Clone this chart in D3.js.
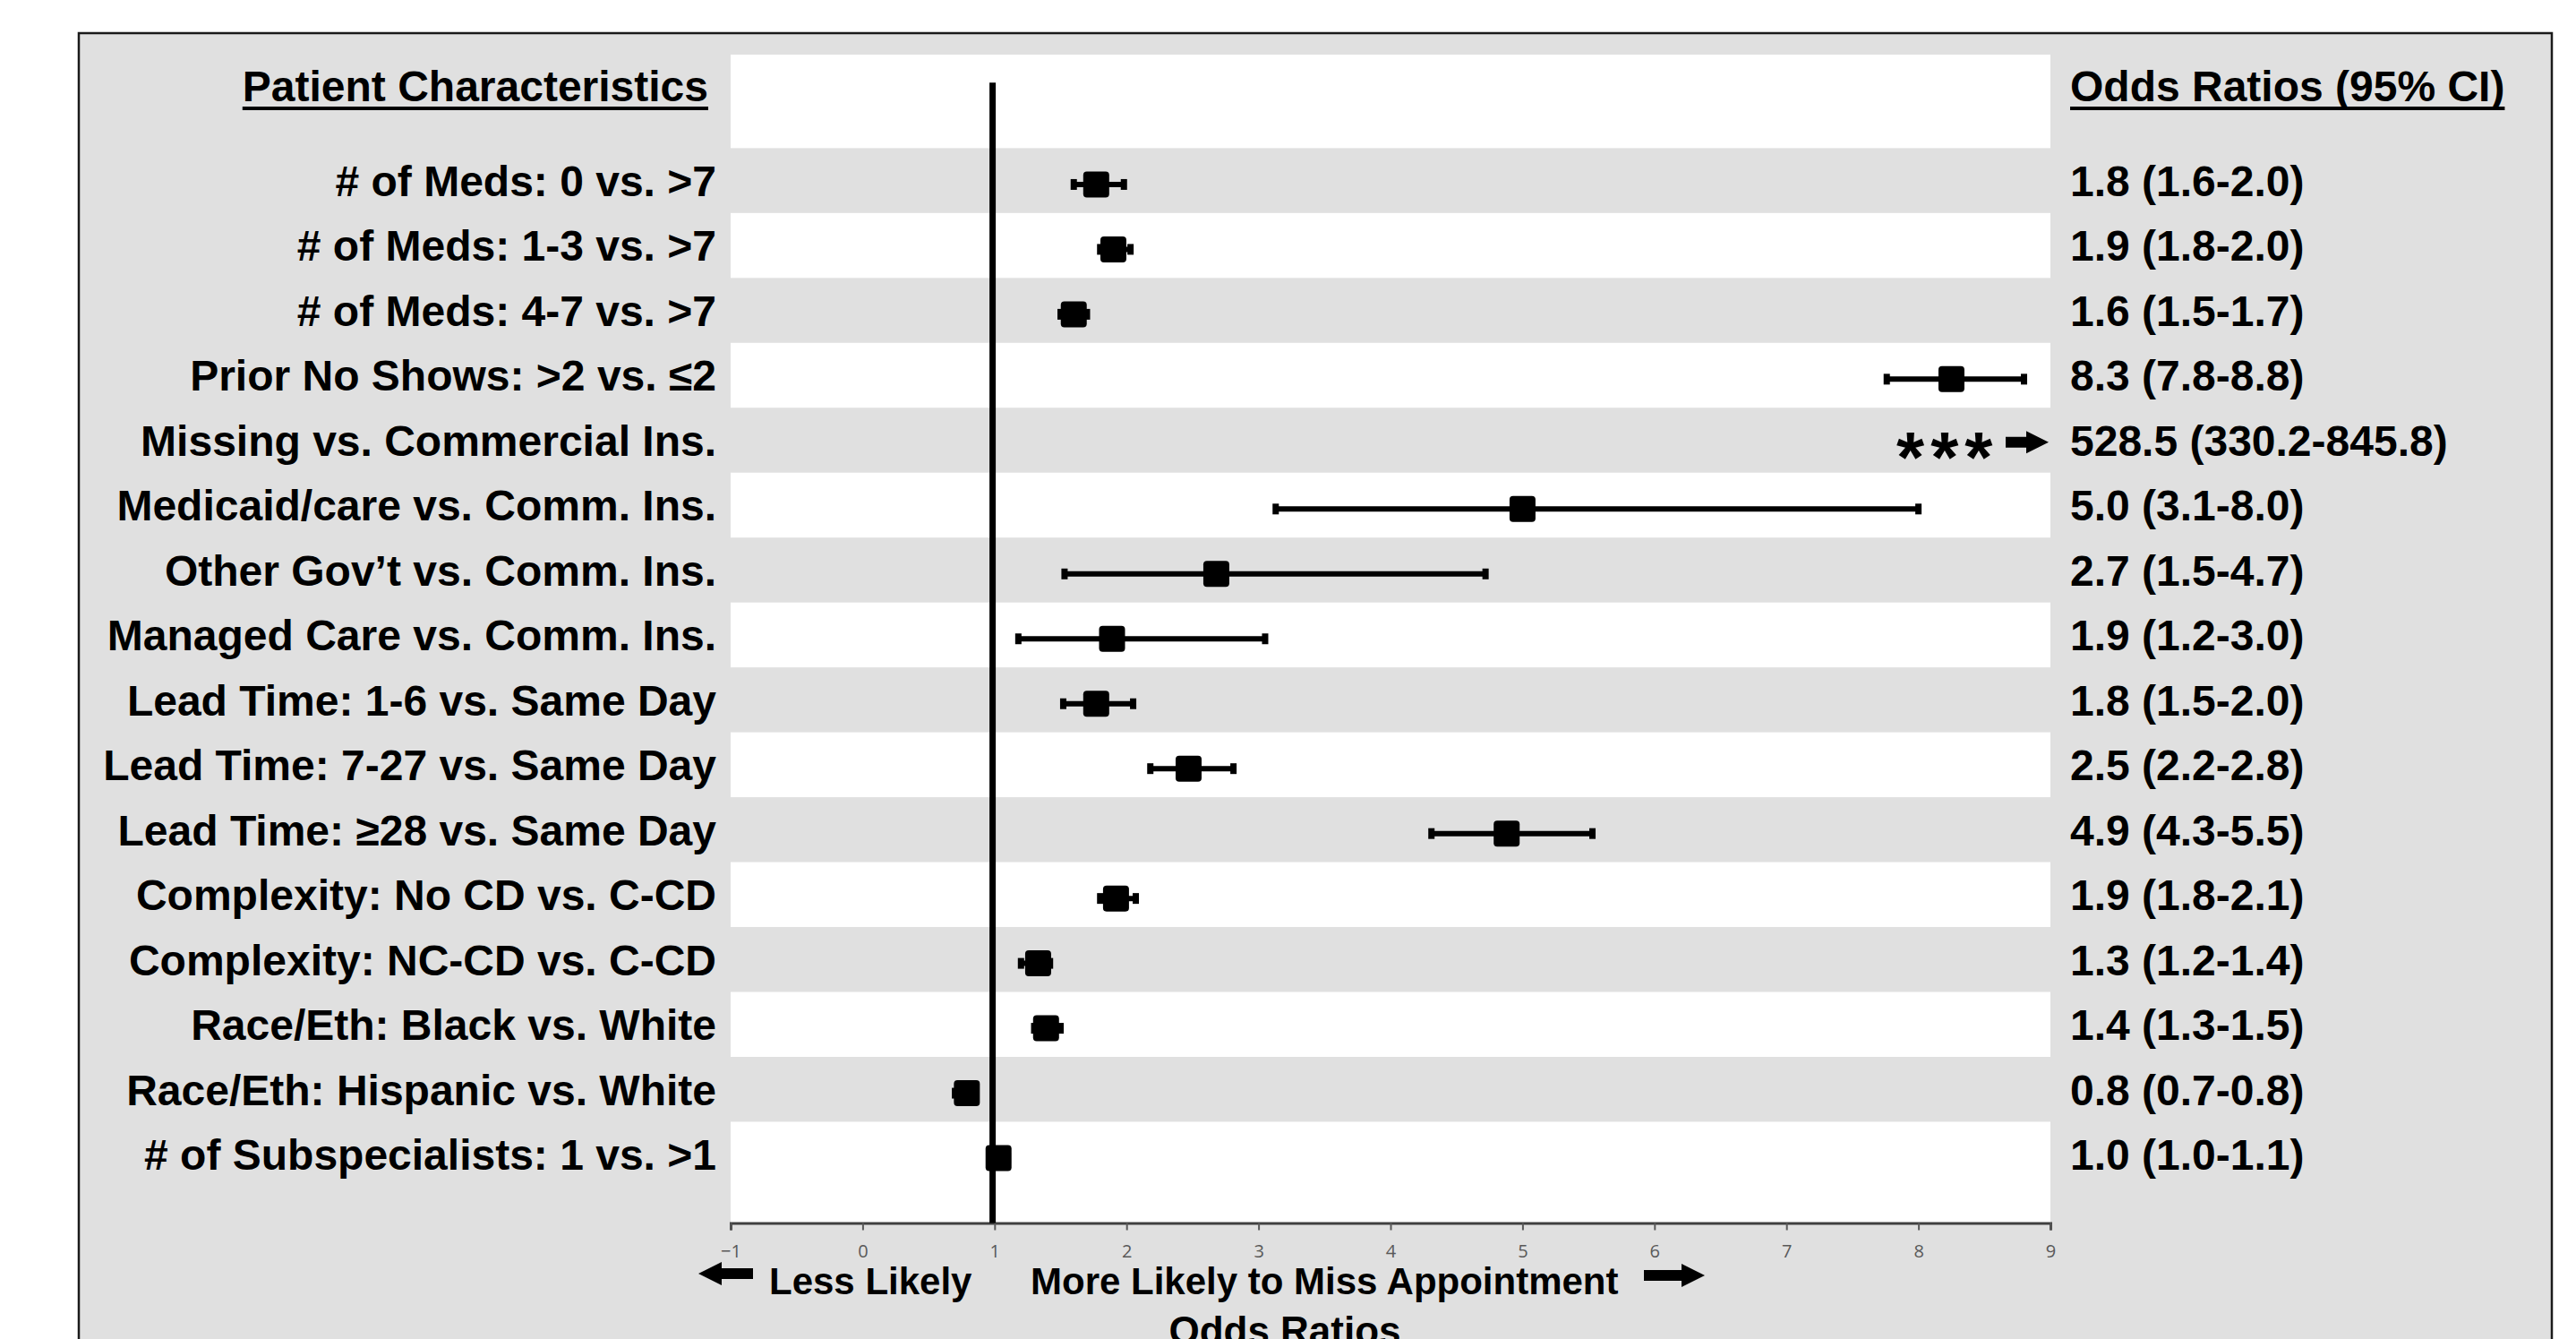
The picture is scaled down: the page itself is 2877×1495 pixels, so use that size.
<!DOCTYPE html>
<html>
<head>
<meta charset="utf-8">
<script src="https://cdn.jsdelivr.net/npm/d3@7"></script>
<style>
  body { margin: 0; background: #ffffff; }
  svg { display: block; }
</style>
</head>
<body>
<div id="chart"></div>
<script>
// rows, top to bottom
var rowLabels = [
    "# of Meds: 0 vs. >7",
    "# of Meds: 1-3 vs. >7",
    "# of Meds: 4-7 vs. >7",
    "Prior No Shows: >2 vs. \u22642",
    "Missing vs. Commercial Ins.",
    "Medicaid/care vs. Comm. Ins.",
    "Other Gov\u2019t vs. Comm. Ins.",
    "Managed Care vs. Comm. Ins.",
    "Lead Time: 1-6 vs. Same Day",
    "Lead Time: 7-27 vs. Same Day",
    "Lead Time: \u226528 vs. Same Day",
    "Complexity: No CD vs. C-CD",
    "Complexity: NC-CD vs. C-CD",
    "Race/Eth: Black vs. White",
    "Race/Eth: Hispanic vs. White",
    "# of Subspecialists: 1 vs. >1"
]
var oddsRatio = [1.77, 1.9, 1.6, 8.25, null, 5.0, 2.68, 1.89, 1.77, 2.47, 4.88, 1.92, 1.33, 1.39, 0.79, 1.03]
var ciLow     = [1.6, 1.8, 1.5, 7.76, null, 3.13, 1.53, 1.18, 1.52, 2.18, 4.31, 1.8, 1.2, 1.3, 0.7, 1.0]
var ciHigh    = [1.98, 2.03, 1.7, 8.8, null, 8.0, 4.72, 3.05, 2.05, 2.81, 5.53, 2.07, 1.42, 1.5, 0.8, 1.1]
var orText = [
    "1.8 (1.6-2.0)", "1.9 (1.8-2.0)", "1.6 (1.5-1.7)", "8.3 (7.8-8.8)",
    "528.5 (330.2-845.8)", "5.0 (3.1-8.0)", "2.7 (1.5-4.7)", "1.9 (1.2-3.0)",
    "1.8 (1.5-2.0)", "2.5 (2.2-2.8)", "4.9 (4.3-5.5)", "1.9 (1.8-2.1)",
    "1.3 (1.2-1.4)", "1.4 (1.3-1.5)", "0.8 (0.7-0.8)", "1.0 (1.0-1.1)"
]
var xTicks = [-1, 0, 1, 2, 3, 4, 5, 6, 7, 8, 9]

var width = 2877, height = 1495
var grey = "#e0e0e0"
var font = "'Liberation Sans', Arial, sans-serif"

var svg = d3.select("#chart")
    .append("svg")
    .attr("width", width)
    .attr("height", height)

// outer frame (runs past the bottom of the picture)
svg.append("rect")
    .attr("x", 88).attr("y", 37)
    .attr("width", 2762).attr("height", 1520)
    .attr("fill", grey)
    .attr("stroke", "#1a1a1a")
    .attr("stroke-width", 2.5)

var x = d3.scaleLinear().domain([-1, 9]).range([816, 2290])
// row i sits at value (n - i), domain like the excel plot
var n = rowLabels.length
var y = d3.scaleLinear().domain([0, 18]).range([1365.5, 61])
var rowY = function (i) { return y(n - i) }

// plot area
svg.append("rect")
    .attr("x", x(-1)).attr("y", y(18))
    .attr("width", x(9) - x(-1))
    .attr("height", y(0) - y(18))
    .attr("fill", "white")

// alternating bands
var bandShift = 0.06
svg.selectAll(".band")
    .data(d3.range(0, n, 2))
    .enter()
    .append("rect")
    .attr("class", "band")
    .attr("x", x(-1))
    .attr("width", x(9) - x(-1))
    .attr("y", function (i) { return y(n - i + 0.5 + bandShift) })
    .attr("height", y(0) - y(1))
    .attr("fill", grey)

// x axis
var xAxis = d3.axisBottom(x).tickValues(xTicks).tickSize(8).tickPadding(16)
var gx = svg.append("g")
    .attr("transform", "translate(0," + y(0) + ")")
    .call(xAxis)
gx.select(".domain").attr("stroke", "#404040").attr("stroke-width", 3)
gx.selectAll(".tick line").attr("stroke", "#595959").attr("stroke-width", 2)
gx.selectAll(".tick text")
    .attr("fill", "#595959")
    .attr("font-family", "'Open Sans', sans-serif")
    .attr("font-size", "20px")

// reference line at OR = 1
svg.append("line")
    .attr("x1", x(0.985)).attr("x2", x(0.985))
    .attr("y1", y(17.57)).attr("y2", y(0))
    .attr("stroke", "black")
    .attr("stroke-width", 7)

var rows = d3.range(n).filter(function (i) { return oddsRatio[i] != null })

// error bars
svg.selectAll(".ci")
    .data(rows)
    .enter()
    .append("line")
    .attr("class", "ci")
    .attr("x1", function (i) { return x(ciLow[i]) })
    .attr("x2", function (i) { return x(ciHigh[i]) })
    .attr("y1", rowY).attr("y2", rowY)
    .attr("stroke", "black")
    .attr("stroke-width", 6)

var capW = 7, capH = 12
svg.selectAll(".capL")
    .data(rows)
    .enter()
    .append("rect")
    .attr("x", function (i) { return x(ciLow[i]) - capW / 2 })
    .attr("y", function (i) { return rowY(i) - capH / 2 })
    .attr("width", capW).attr("height", capH)
    .attr("fill", "black")
svg.selectAll(".capR")
    .data(rows)
    .enter()
    .append("rect")
    .attr("x", function (i) { return x(ciHigh[i]) - capW / 2 })
    .attr("y", function (i) { return rowY(i) - capH / 2 })
    .attr("width", capW).attr("height", capH)
    .attr("fill", "black")

// point estimates
var m = 29
svg.selectAll(".pt")
    .data(rows)
    .enter()
    .append("rect")
    .attr("class", "pt")
    .attr("x", function (i) { return x(oddsRatio[i]) - m / 2 })
    .attr("y", function (i) { return rowY(i) - m / 2 })
    .attr("width", m).attr("height", m)
    .attr("rx", 4).attr("ry", 4)
    .attr("fill", "black")

// arrow shape, pointing right, tip at 0,0
function arrowPath(len, shaft, head, headLen) {
    return "M" + (-len) + "," + (-shaft / 2) +
        "L" + (-headLen) + "," + (-shaft / 2) +
        "L" + (-headLen) + "," + (-head / 2) +
        "L0,0" +
        "L" + (-headLen) + "," + (head / 2) +
        "L" + (-headLen) + "," + (shaft / 2) +
        "L" + (-len) + "," + (shaft / 2) + "Z"
}

// off-scale row (missing insurance)
var offRows = d3.range(n).filter(function (i) { return oddsRatio[i] == null })
offRows.forEach(function (i) {
    svg.append("text")
        .attr("x", x(9) - 172)
        .attr("y", rowY(i) + 42)
        .attr("font-family", font)
        .attr("font-weight", "bold")
        .attr("font-size", "80px")
        .attr("letter-spacing", "7px")
        .text("***")
    svg.append("path")
        .attr("d", arrowPath(48, 12, 25, 25))
        .attr("transform", "translate(" + (x(9) - 2) + "," + (rowY(i) - 2) + ")")
        .attr("fill", "black")
})

// left labels
svg.selectAll(".rowLabel")
    .data(rowLabels)
    .enter()
    .append("text")
    .attr("x", 800)
    .attr("y", function (d, i) { return rowY(i) + 13 })
    .attr("text-anchor", "end")
    .attr("font-family", font)
    .attr("font-weight", "bold")
    .attr("font-size", "48px")
    .attr("fill", "black")
    .text(function (d) { return d })

// right labels
svg.selectAll(".orLabel")
    .data(orText)
    .enter()
    .append("text")
    .attr("x", 2312)
    .attr("y", function (d, i) { return rowY(i) + 13 })
    .attr("font-family", font)
    .attr("font-weight", "bold")
    .attr("font-size", "48px")
    .attr("fill", "black")
    .text(function (d) { return d })

// underlined headers
function header(txt, xPos, anchor) {
    var t = svg.append("text")
        .attr("x", xPos).attr("y", 113)
        .attr("text-anchor", anchor)
        .attr("font-family", font)
        .attr("font-weight", "bold")
        .attr("font-size", "48px")
        .text(txt)
    var w = t.node().getComputedTextLength()
    var x0 = anchor === "end" ? xPos - w : xPos
    svg.append("rect")
        .attr("x", x0).attr("y", 119)
        .attr("width", w).attr("height", 4)
        .attr("fill", "black")
}
header("Patient Characteristics", 791, "end")
header("Odds Ratios (95% CI)", 2312, "start")

// direction labels under the axis
var bottomY = 1445
svg.append("path")
    .attr("d", arrowPath(61, 12, 26, 26))
    .attr("transform", "translate(780," + (bottomY - 23) + ") scale(-1,1)")
    .attr("fill", "black")
svg.append("text")
    .attr("x", 859).attr("y", bottomY)
    .attr("font-family", font).attr("font-weight", "bold").attr("font-size", "42px")
    .text("Less Likely")
svg.append("text")
    .attr("x", 1151).attr("y", bottomY)
    .attr("font-family", font).attr("font-weight", "bold").attr("font-size", "42px")
    .text("More Likely to Miss Appointment")
svg.append("path")
    .attr("d", arrowPath(68, 12, 26, 26))
    .attr("transform", "translate(1904," + (bottomY - 21) + ")")
    .attr("fill", "black")

// axis title, cut at the bottom edge as in the original
svg.append("text")
    .attr("x", 1435).attr("y", 1501)
    .attr("text-anchor", "middle")
    .attr("font-family", font).attr("font-weight", "bold").attr("font-size", "44px")
    .text("Odds Ratios")
</script>
</body>
</html>
